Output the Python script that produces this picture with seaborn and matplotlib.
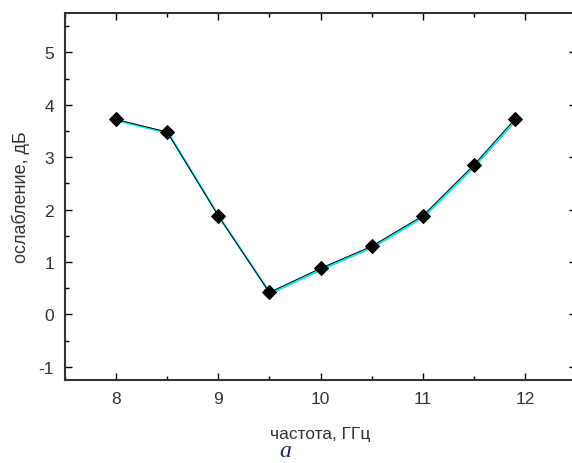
import matplotlib
matplotlib.use("Agg")
import matplotlib.pyplot as plt
import matplotlib.transforms as mtransforms
import seaborn as sns
import pandas as pd
from matplotlib.ticker import MultipleLocator

freq = [8.0, 8.5, 9.0, 9.5, 10.0, 10.5, 11.0, 11.5, 11.9]
atten = [3.72, 3.48, 1.88, 0.42, 0.88, 1.30, 1.88, 2.85, 3.72]
x_ticks = [8, 9, 10, 11, 12]
y_ticks = [-1, 0, 1, 2, 3, 4, 5]

df = pd.DataFrame({"freq": freq, "atten": atten})

sns.set_theme(style="white")
plt.rcParams["font.family"] = ["Liberation Sans", "DejaVu Sans"]

fig = plt.figure(figsize=(5.72, 4.64), dpi=100)
ax = fig.add_axes([65/572, 83/464, 511/572, 367/464])

# cyan trace, slightly offset, under the black trace
sns.lineplot(data=df, x="freq", y="atten", ax=ax, color="#10e4ec", lw=1.5, zorder=2)
cyan = ax.lines[-1]
cyan.set_transform(mtransforms.offset_copy(ax.transData, fig=fig, x=1.1, y=-1.1, units="dots"))
sns.lineplot(data=df, x="freq", y="atten", ax=ax, color="black", lw=0.7, zorder=3,
             marker="D", markersize=7, markeredgecolor="black", markerfacecolor="black")

ax.set_xlim(7.5, 12.5)
ax.set_ylim(-1.25, 5.75)
ax.set_xticks(x_ticks)
ax.set_yticks(y_ticks)
ax.set_xticklabels([str(v) for v in x_ticks])
ax.set_yticklabels([str(v) for v in y_ticks])
ax.xaxis.set_minor_locator(MultipleLocator(0.5))
ax.yaxis.set_minor_locator(MultipleLocator(0.5))
ax.tick_params(which="both", direction="in", top=True, right=True, bottom=True, left=True,
               color="black", labelsize=12.5, labelcolor="#333333", width=1)
ax.tick_params(which="major", length=5, pad=8)
ax.tick_params(which="minor", length=3)
for s in ax.spines.values():
    s.set_color("#333333")
    s.set_linewidth(1.5)

ax.set_xlabel("частота, ГГц", fontsize=12.5, color="#333333", labelpad=14)
ax.set_ylabel("ослабление, дБ", fontsize=13, color="#333333", labelpad=6)

fig.text(285/572, 1 - 452/464, "a", fontsize=17, fontstyle="italic",
         family=["Liberation Serif", "DejaVu Serif"], color="#1a2a5a", ha="center", va="center")

fig.savefig("out.png", dpi=100)
